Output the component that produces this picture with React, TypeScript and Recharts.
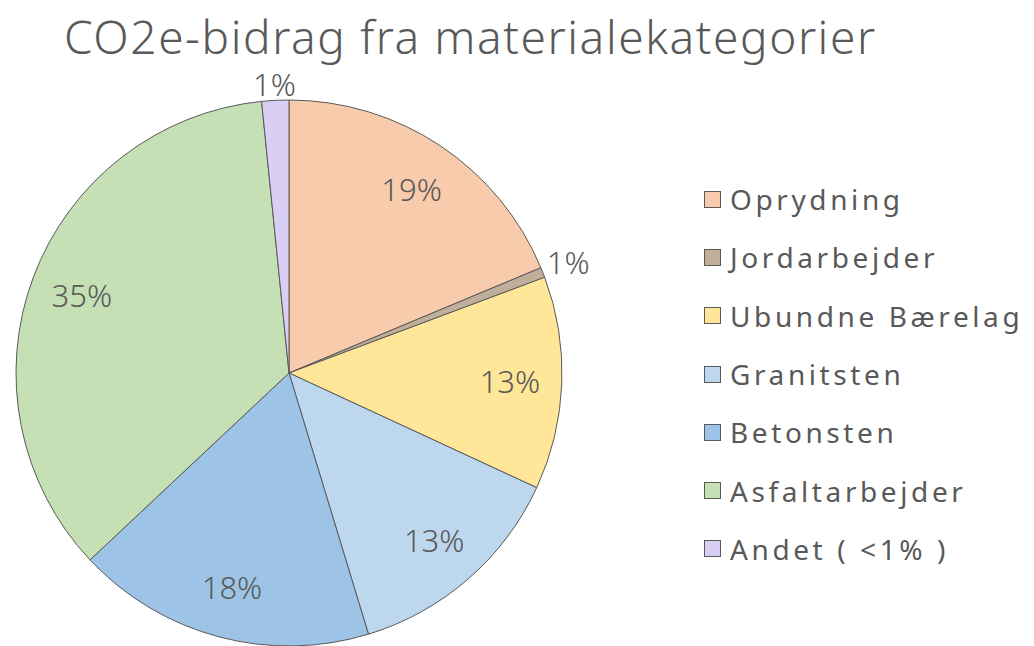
import { PieChart, Pie, Cell, Legend } from "recharts";

const categories = [
  "Oprydning",
  "Jordarbejder",
  "Ubundne Bærelag",
  "Granitsten",
  "Betonsten",
  "Asfaltarbejder",
  "Andet ( <1% )",
];
const shares = [18.7, 0.6, 12.6, 13.4, 17.7, 35.4, 1.6];
const shareLabels = ["19%", "1%", "13%", "13%", "18%", "35%", "1%"];
const colors = ["#F8CBAD", "#BFAE9A", "#FFE699", "#BDD7EE", "#9DC3E6", "#C5E0B4", "#D9CFF5"];

const data = categories.map((name, i) => ({ name, value: shares[i], label: shareLabels[i] }));

const RAD = Math.PI / 180;

function renderLabel(props: any) {
  const { cx, cy, midAngle, outerRadius, index } = props;
  const small = shares[index] < 2;
  const ang = ((midAngle % 360) + 360) % 360;
  // tiny slices get their label just outside the rim
  const nearTop = Math.abs(ang - 90) < 20;
  const r = small ? outerRadius * (nearTop ? 1.06 : 1.1) : outerRadius * 0.81;
  const x = cx + r * Math.cos(-ang * RAD);
  const y = cy + r * Math.sin(-ang * RAD);
  return (
    <text
      x={x}
      y={y}
      fill="#595959"
      fontSize={31}
      fontFamily="'Noto Sans', sans-serif"
      fontWeight={300}
      textAnchor="middle"
      dominantBaseline="central"
    >
      {shareLabels[index]}
    </text>
  );
}

// legend rows follow the data order, not the sorted payload
function renderLegend() {
  return (
    <div style={{ fontFamily: "'Noto Sans', sans-serif" }}>
      {categories.map((name, i) => (
        <div key={name} style={{ display: "flex", alignItems: "center", height: 58.3 }}>
          <span
            style={{
              width: 15,
              height: 15,
              background: colors[i],
              border: "1.5px solid #595959",
              marginRight: 9,
              display: "inline-block",
              flexShrink: 0,
            }}
          />
          <span style={{ fontSize: 28, color: "#595959", letterSpacing: 3.6, whiteSpace: "nowrap" }}>
            {name}
          </span>
        </div>
      ))}
    </div>
  );
}

export default function App() {
  return (
    <div style={{ position: "absolute", left: 0, top: 0, width: 1034, height: 646, background: "#fff" }}>
      <div
        style={{
          position: "absolute",
          left: 64,
          top: 13,
          fontSize: 46,
          lineHeight: 1,
          color: "#595959",
          fontFamily: "'Noto Sans', sans-serif",
          fontWeight: 300,
          letterSpacing: 1.6,
          whiteSpace: "nowrap",
          zIndex: 2,
        }}
      >
        CO2e-bidrag fra materialekategorier
      </div>
      <PieChart width={1034} height={646} margin={{ top: 0, right: 0, bottom: 0, left: 0 }}>
        <Pie
          data={data}
          dataKey="value"
          nameKey="name"
          cx={289}
          cy={373}
          outerRadius={273}
          startAngle={90}
          endAngle={-270}
          stroke="#595959"
          strokeWidth={1}
          label={renderLabel}
          labelLine={false}
          isAnimationActive={false}
        >
          {data.map((d, i) => (
            <Cell key={d.name} fill={colors[i]} />
          ))}
        </Pie>
        <Legend
          layout="vertical"
          align="right"
          verticalAlign="top"
          content={renderLegend}
          wrapperStyle={{ left: 704, top: 170, width: 330 }}
        />
      </PieChart>
    </div>
  );
}
